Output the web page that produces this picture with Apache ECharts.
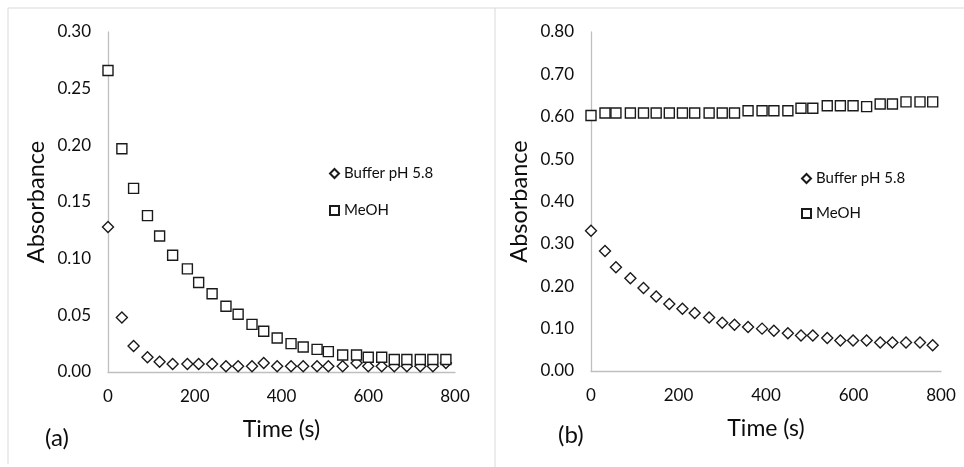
<!DOCTYPE html>
<html>
<head>
<meta charset="utf-8">
<script src="https://cdn.jsdelivr.net/npm/echarts@6/dist/echarts.min.js"></script>
<style>
html,body{margin:0;padding:0;background:#fff;}
#c{width:964px;height:467px;}
</style>
</head>
<body>
<div id="c"></div>
<script>
// Times (s)
var timesA = [0, 32, 59, 91, 119, 149, 183, 209, 240, 272, 300, 332, 359, 390, 422, 450, 482, 508, 541, 573, 600, 631, 660, 689, 720, 749, 779];
var timesB = [0, 32, 57, 90, 120, 149, 179, 209, 237, 270, 300, 328, 359, 391, 418, 450, 480, 507, 540, 570, 599, 630, 661, 689, 720, 752, 781];

// Panel (a)
var bufferA = [0.128, 0.048, 0.023, 0.013, 0.009, 0.007, 0.007, 0.007, 0.007, 0.005, 0.005, 0.005, 0.008, 0.005, 0.005, 0.005, 0.005, 0.005, 0.005, 0.008, 0.005, 0.005, 0.005, 0.005, 0.005, 0.005, 0.008];
var meohA = [0.266, 0.197, 0.162, 0.138, 0.120, 0.103, 0.091, 0.079, 0.069, 0.058, 0.051, 0.042, 0.036, 0.030, 0.025, 0.022, 0.020, 0.018, 0.015, 0.015, 0.013, 0.013, 0.011, 0.011, 0.011, 0.011, 0.011];

// Panel (b)
var bufferB = [0.331, 0.283, 0.245, 0.219, 0.196, 0.176, 0.158, 0.147, 0.137, 0.126, 0.114, 0.109, 0.104, 0.100, 0.095, 0.089, 0.084, 0.084, 0.078, 0.072, 0.072, 0.072, 0.067, 0.067, 0.067, 0.067, 0.061];
var meohB = [0.603, 0.609, 0.609, 0.609, 0.609, 0.609, 0.609, 0.609, 0.609, 0.609, 0.609, 0.609, 0.614, 0.614, 0.614, 0.614, 0.620, 0.620, 0.626, 0.626, 0.626, 0.624, 0.630, 0.630, 0.635, 0.635, 0.635];

var xTicks = [0, 200, 400, 600, 800];
var yTicksA = [0, 0.05, 0.10, 0.15, 0.20, 0.25, 0.30];
var yTicksB = [0, 0.10, 0.20, 0.30, 0.40, 0.50, 0.60, 0.70, 0.80];

var seriesNames = ['Buffer pH 5.8', 'MeOH'];
var panelLabels = ['(a)', '(b)'];

function pairs(xs, ys){ return xs.map(function(x,i){ return [x, ys[i]]; }); }

var FONT = 'Lato, "Open Sans", sans-serif';
var TXT = '#0d0d0d';
var AXC = '#bfbfbf';

function xAxisCfg(idx){
  return {
    type:'value', gridIndex: idx, min: xTicks[0], max: xTicks[xTicks.length-1], interval: 200,
    name:'Time (s)', nameLocation:'middle', nameGap: 46,
    nameTextStyle:{fontFamily:FONT, fontSize:23, color:TXT},
    axisLine:{show:true, onZero:false, lineStyle:{color:AXC, width:1.3}},
    axisTick:{show:false}, splitLine:{show:false},
    axisLabel:{fontFamily:FONT, fontSize:17, color:TXT, margin:16}
  };
}
function yAxisCfg(idx, ticks, interval){
  return {
    type:'value', gridIndex: idx, min: ticks[0], max: ticks[ticks.length-1], interval: interval,
    name:'Absorbance', nameLocation:'middle', nameRotate:90, nameGap: 60,
    nameTextStyle:{fontFamily:FONT, fontSize:23.5, color:TXT},
    axisLine:{show:true, lineStyle:{color:AXC, width:1.3}},
    axisTick:{show:false}, splitLine:{show:false},
    axisLabel:{fontFamily:FONT, fontSize:17, color:TXT, margin:17,
      formatter:function(v){ return v.toFixed(2); }}
  };
}
function sc(name, idx, data, sym, size){
  return {
    name:name, type:'scatter', xAxisIndex:idx, yAxisIndex:idx, data:data,
    symbol:sym, symbolSize:size,
    itemStyle:{color:'#ffffff', borderColor:'#1a1a1a', borderWidth:1.4, opacity:1},
    emphasis:{disabled:true}
  };
}

var chart = echarts.init(document.getElementById('c'), null, {renderer:'canvas'});
chart.setOption({
  backgroundColor:'#ffffff',
  animation:false,
  grid:[
    {left:108, top:32, width:347, height:340},
    {left:591, top:32, width:350, height:339}
  ],
  xAxis:[xAxisCfg(0), xAxisCfg(1)],
  yAxis:[yAxisCfg(0, yTicksA, 0.05), yAxisCfg(1, yTicksB, 0.1)],
  legend:[
    {data:seriesNames, orient:'vertical', left:324, top:161, itemWidth:9, itemHeight:9, itemGap:22,
     textStyle:{fontFamily:FONT, fontSize:15, color:TXT}, selectedMode:false},
    {data:seriesNames, orient:'vertical', left:796, top:166, itemWidth:9, itemHeight:9, itemGap:20,
     textStyle:{fontFamily:FONT, fontSize:15, color:TXT}, selectedMode:false}
  ],
  series:[
    sc(seriesNames[0], 0, pairs(timesA, bufferA), 'diamond', 11),
    sc(seriesNames[1], 0, pairs(timesA, meohA), 'rect', 10),
    sc(seriesNames[0], 1, pairs(timesB, bufferB), 'diamond', 11),
    sc(seriesNames[1], 1, pairs(timesB, meohB), 'rect', 10)
  ],
  graphic:[
    {type:'line', shape:{x1:8, y1:8, x2:964, y2:8}, style:{stroke:'#d9d9d9', lineWidth:1}, silent:true},
    {type:'line', shape:{x1:8, y1:8, x2:8, y2:464}, style:{stroke:'#d9d9d9', lineWidth:1}, silent:true},
    {type:'line', shape:{x1:495, y1:8, x2:495, y2:467}, style:{stroke:'#d9d9d9', lineWidth:1}, silent:true},
    {type:'text', left:45, top:426, style:{text:panelLabels[0], font:'24px '+FONT, fill:TXT}},
    {type:'text', left:558, top:423, style:{text:panelLabels[1], font:'24px '+FONT, fill:TXT}}
  ]
});
</script>
</body>
</html>
